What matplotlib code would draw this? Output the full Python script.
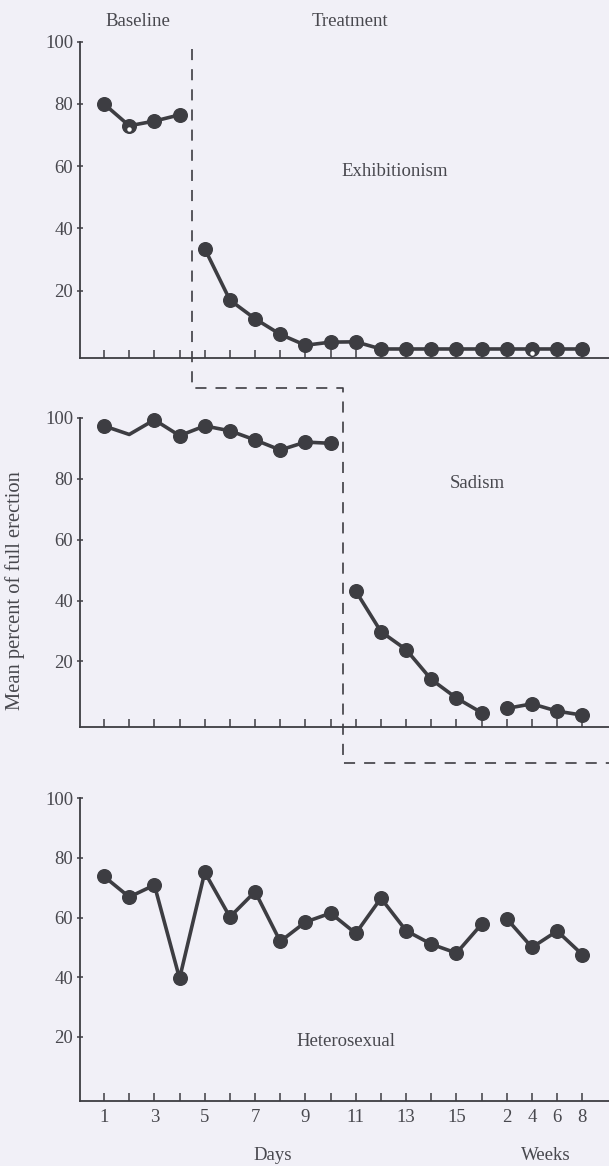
import matplotlib
matplotlib.use("Agg")
import matplotlib.pyplot as plt
from matplotlib.lines import Line2D
import numpy as np

# sessions: 16 days then weeks 2, 4, 6, 8
positions = list(range(1, 21))
day_ticks = [str(d) if d % 2 else '' for d in range(1, 17)]
week_ticks = ['2', '4', '6', '8']
tick_labels = day_ticks + week_ticks

exhibitionism = [80, 73, 74.5, 76.5, 33.5, 17, 11, 6, 2.5, 3.5, 3.6,
                 1.3, 1.3, 1.3, 1.3, 1.3, 1.3, 1.3, 1.3, 1.3]
sadism = [97.3, 94.5, 99.3, 94.1, 97.3, 95.7, 92.7, 89.4, 92, 91.6,
          43.1, 29.8, 23.9, 14.1, 8, 3.2, 4.6, 6.1, 3.7, 2.4]
heterosexual = [73.8, 66.9, 70.9, 39.6, 75.2, 60.2, 68.7, 52, 58.5, 61.5,
                54.7, 66.5, 55.6, 51.1, 48.1, 57.8, 59.6, 50, 55.5, 47.6]

# line breaks (index where a new segment starts)
exhib_breaks = [4]
sadism_breaks = [10, 16]
hetero_breaks = [16]

# printing flaws: points with a white speck / missing dot
exhib_specks = [1, 17]
sadism_nodot = [1]

phase_changes = [4.5, 10.5]

bg = '#f1f0f7'
ink = '#3d3d42'
txt = '#48484e'
W, H = 609, 1166

plt.rcParams['font.family'] = ['Liberation Serif', 'DejaVu Serif']
plt.rcParams['lines.scale_dashes'] = False
fs = 13.5

fig = plt.figure(figsize=(W / 100, H / 100), dpi=100, facecolor=bg)
left = 80.4 / W
rects = [(41.7, 357.7), (417.7, 727), (798.3, 1101)]
axes = []
for top, bot in rects:
    ax = fig.add_axes([left, 1 - bot / H, 1 - left, (bot - top) / H])
    ax.set_facecolor('none')
    ax.set_xlim(0.06, 21.06)
    ax.set_ylim(-1.5, 100)
    for s in ['top', 'right']:
        ax.spines[s].set_visible(False)
    for s in ['left', 'bottom']:
        ax.spines[s].set_color(ink)
        ax.spines[s].set_linewidth(1.3)
    ax.set_yticks([20, 40, 60, 80, 100])
    ax.set_xticks(positions)
    ax.tick_params(axis='y', direction='inout', length=5, width=1.1, colors=ink,
                   labelcolor=txt, labelsize=fs, pad=2.8)
    ax.tick_params(axis='x', direction='in', length=5.8, width=1.1, colors=ink,
                   labelcolor=txt, labelsize=fs, pad=6)
    ax.set_xticklabels([])
    axes.append(ax)


def draw(ax, vals, breaks, nodot=()):
    xs, ys = [], []
    for i, (x, v) in enumerate(zip(positions, vals)):
        if i in breaks:
            xs.append(np.nan)
            ys.append(np.nan)
        xs.append(x)
        ys.append(v)
    ax.plot(xs, ys, color=ink, lw=2.6, solid_joinstyle='round', clip_on=False)
    mx = [x for i, x in enumerate(positions) if i not in nodot]
    my = [v for i, v in enumerate(vals) if i not in nodot]
    ax.plot(mx, my, 'o', color=ink, ms=9.8, mec=ink, clip_on=False)


draw(axes[0], exhibitionism, exhib_breaks)
draw(axes[1], sadism, sadism_breaks, sadism_nodot)
draw(axes[2], heterosexual, hetero_breaks)
axes[0].plot([positions[i] for i in exhib_specks],
             [exhibitionism[i] - 1.2 for i in exhib_specks],
             'o', color='white', ms=3.2, mew=0, clip_on=False)

axes[2].set_xticklabels(tick_labels)

axes[0].text(2.35, 106.4, 'Baseline', ha='center', va='center', fontsize=fs,
             color=txt, clip_on=False)
axes[0].text(10.75, 106.4, 'Treatment', ha='center', va='center', fontsize=fs,
             color=txt, clip_on=False)
axes[0].text(12.56, 58.2, 'Exhibitionism', ha='center', va='center',
             fontsize=fs, color=txt)
axes[1].text(15.82, 78.3, 'Sadism', ha='center', va='center', fontsize=fs,
             color=txt)
axes[2].text(10.6, 18.3, 'Heterosexual', ha='center', va='center',
             fontsize=fs, color=txt)
axes[2].text(7.71, -19.7, 'Days', ha='center', va='center', fontsize=fs,
             color=txt, clip_on=False)
axes[2].text(18.54, -19.7, 'Weeks', ha='center', va='center', fontsize=fs,
             color=txt, clip_on=False)
axes[1].set_ylabel('Mean percent of full erection', fontsize=14.8, color=txt)
axes[1].yaxis.set_label_coords(-0.104, 0.44)

# stepped phase-change line across the panels
inv = fig.transFigure.inverted()


def fx(ax, x):
    return inv.transform(ax.transData.transform((x, 0)))[0]


def fy(ax, y):
    return inv.transform(ax.transData.transform((1, y)))[1]


gap1 = (axes[0].get_position().y0 + axes[1].get_position().y1) / 2
gap2 = (axes[1].get_position().y0 + axes[2].get_position().y1) / 2
xa = fx(axes[0], phase_changes[0])
xb = fx(axes[1], phase_changes[1])
xs = [xa, xa, xb, xb, 1.0]
ys = [fy(axes[0], 97.7), gap1, gap1, gap2, gap2]
fig.add_artist(Line2D(xs, ys, transform=fig.transFigure, color=ink, lw=1.2,
                      dashes=(8, 6.5)))

fig.savefig('out.png', dpi=100, facecolor=bg)
